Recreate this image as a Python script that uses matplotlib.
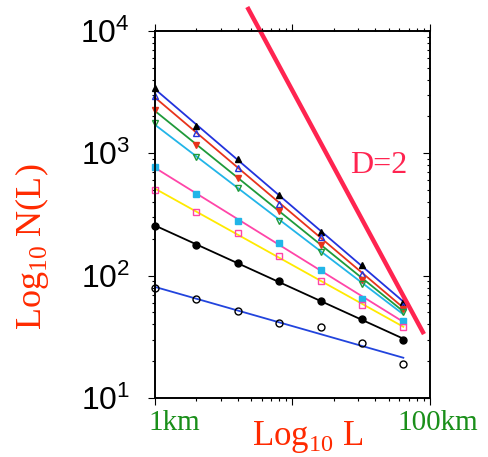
import numpy as np
import matplotlib
matplotlib.use("Agg")
import matplotlib.pyplot as plt
from matplotlib.ticker import LogLocator, NullFormatter

plt.rcParams['font.family'] = ['Liberation Sans', 'DejaVu Sans']
plt.rcParams['mathtext.fontset'] = 'custom'
plt.rcParams['mathtext.rm'] = 'Liberation Serif'

# box sizes in km
L = [1, 2, 4, 8, 16, 32, 64]

# number of boxes N(L) for each data set (top to bottom)
n_blue   = [3400, 1670, 893, 456, 229, 122, 61]
n_red    = [2945, 1459, 754, 385, 208, 104, 56]
n_green  = [2260, 1170, 626, 340, 178, 92, 53]
n_cyan   = [1758, 937, 518, 281, 157, 86, 50]
n_pink   = [776, 465, 279, 186, 111, 65, 43]
n_yellow = [501, 333, 222, 145, 90, 58, 38]
n_black  = [255, 178, 128, 90, 62, 44, 30]
n_open   = [79, 64, 51, 41, 38, 28, 19]

# reference line with slope -2
ref_L = [4.69, 90.4]
ref_N = [15700, 33.3]

series = [
    (n_blue,   '#2233dd', dict(marker='^', mfc='black', mec='black', ms=4)),
    (n_red,    '#e8331c', dict(marker='^', mfc='none', mec='#2233dd', ms=4)),
    (n_green,  '#1f9a3a', dict(marker='v', mfc='#e8331c', mec='#e8331c', ms=4)),
    (n_cyan,   '#22b5e8', dict(marker='v', mfc='none', mec='#1f9a3a', ms=4)),
    (n_pink,   '#ff45a8', dict(marker='s', mfc='#22b5e8', mec='#22b5e8', ms=5)),
    (n_yellow, '#ffea00', dict(marker='s', mfc='none', mec='#ff45a8', ms=5)),
    (n_black,  'black',   dict(marker='o', mfc='black', mec='black', ms=5)),
    (n_open,   '#2244dd', dict(marker='o', mfc='none', mec='black', ms=5)),
]

fig = plt.figure(figsize=(4.88, 4.57), dpi=100)
ax = fig.add_axes([0.3176, 0.1291, 0.5635, 0.8031])

lx = np.log10(L)
for vals, col, mk in series:
    # least squares fit in log-log space
    p = np.polyfit(lx, np.log10(vals), 1)
    fit = 10 ** np.polyval(p, lx[[0, -1]])
    ax.plot(np.array(L)[[0, -1]], fit, color=col, lw=1.3, zorder=2)
    ax.plot(L, vals, ls='none', mew=1.0, clip_on=False, zorder=3, **mk)

ax.plot(ref_L, ref_N, color='#ff2450', lw=3.2, solid_capstyle='butt',
        clip_on=False, zorder=4)
ax.text(42.5, 800, 'D=2', color='#ff2450', fontsize=23, family='Liberation Serif',
        ha='center', va='center')

ax.set_xscale('log')
ax.set_yscale('log')
ax.set_xlim(1, 100)
ax.set_ylim(10, 1e4)

ax.xaxis.set_major_locator(LogLocator(base=10, numticks=10))
ax.xaxis.set_minor_locator(LogLocator(base=10, subs=np.arange(2, 10), numticks=10))
ax.xaxis.set_major_formatter(NullFormatter())
ax.xaxis.set_minor_formatter(NullFormatter())
ax.yaxis.set_minor_formatter(NullFormatter())

ax.tick_params(axis='both', which='both', width=0.8, color='black')
ax.tick_params(axis='x', which='both', direction='out', top=True, bottom=True)
ax.tick_params(axis='y', which='both', direction='out', left=True, right=False)
ax.tick_params(which='major', length=5)
ax.tick_params(which='minor', length=2.5)
ax.tick_params(axis='y', labelsize=23, pad=13)

# inward ticks on the right spine
ax2 = ax.twinx()
ax2.set_yscale('log')
ax2.set_ylim(10, 1e4)
ax2.tick_params(axis='y', which='both', direction='in', width=0.8, labelright=False)
ax2.tick_params(which='major', length=5)
ax2.tick_params(which='minor', length=2.5)

for a in (ax, ax2):
    for s in a.spines.values():
        s.set_linewidth(1.2)

fig.text(0.066, 0.46, r'Log$_{10}$ N(L)', color='#ff2a00', fontsize=26,
         family='Liberation Serif', rotation=90, ha='center', va='center')
fig.text(0.63, 0.005, r'Log$_{10}$ L', color='#ff2a00', fontsize=25,
         family='Liberation Serif', ha='center', va='bottom')
fig.text(0.305, 0.074, '1km', color='#1a8f1a', fontsize=21,
         family='Liberation Serif', ha='left', va='center')
fig.text(0.814, 0.074, '100km', color='#1a8f1a', fontsize=21,
         family='Liberation Serif', ha='left', va='center')

fig.savefig('out.png', dpi=100)
